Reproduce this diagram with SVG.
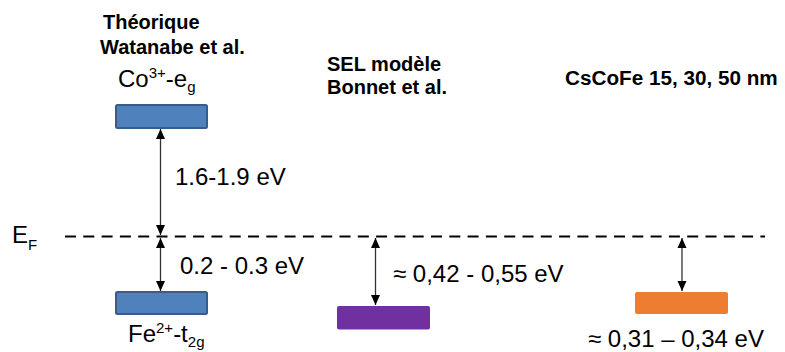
<svg xmlns="http://www.w3.org/2000/svg" width="785" height="352" viewBox="0 0 785 352">
<defs>
<marker id="ah" viewBox="0 0 10 10" refX="10" refY="5" markerWidth="10" markerHeight="10" markerUnits="userSpaceOnUse" orient="auto-start-reverse">
<path d="M0,0.5 L10,5 L0,9.5 Z" fill="#000"/>
</marker>
<style>
.t{font-family:"Liberation Sans",Arial,sans-serif;font-size:24px;fill:#000}
.b{font-family:"Liberation Sans",Arial,sans-serif;font-size:20px;font-weight:bold;fill:#000}
.sm{font-size:15px}
.arr{stroke:#333;stroke-width:1.3;fill:none;marker-start:url(#ah);marker-end:url(#ah)}
.blue{fill:#4F81BD;stroke:#385D8A;stroke-width:2}
</style>
</defs>
<rect width="785" height="352" fill="#fff"/>
<g id="labels">
<text class="b" x="103" y="29">Théorique</text>
<text class="b" x="100" y="54">Watanabe et al.</text>
<text class="b" x="327" y="71">SEL modèle</text>
<text class="b" x="327" y="94">Bonnet et al.</text>
<text class="b" x="565" y="85" style="font-size:20.7px">CsCoFe 15, 30, 50 nm</text>
</g>
<g id="fermi">
<line x1="65" y1="236.5" x2="765" y2="236.5" stroke="#000" stroke-width="2" stroke-dasharray="11,7.3"/>
<text class="t" x="12" y="243">E<tspan class="sm" dy="7">F</tspan></text>
</g>
<g id="co-eg">
<rect class="blue" x="116" y="105" width="91" height="23" rx="1.5"/>
<text class="t" x="118" y="87">Co<tspan class="sm" dy="-9">3+</tspan><tspan dy="9">-e</tspan><tspan class="sm" dy="5">g</tspan></text>
</g>
<g id="fe-t2g">
<rect class="blue" x="116" y="292" width="91" height="22" rx="1.5"/>
<text class="t" x="128" y="342">Fe<tspan class="sm" dy="-9">2+</tspan><tspan dy="9">-t</tspan><tspan class="sm" dy="5">2g</tspan></text>
</g>
<g id="sel">
<rect x="337" y="306" width="93" height="23.5" rx="2" fill="#7030A0"/>
</g>
<g id="cscofe">
<rect x="635" y="292" width="93" height="22" rx="2" fill="#ED7D31"/>
</g>
<g id="connectors">
<line class="arr" x1="160.5" y1="129" x2="160.5" y2="235"/>
<line class="arr" x1="160.5" y1="238" x2="160.5" y2="291"/>
<line class="arr" x1="375.5" y1="238" x2="375.5" y2="305"/>
<line class="arr" x1="682" y1="238" x2="682" y2="291"/>
</g>
<g id="values">
<text class="t" x="175" y="185">1.6-1.9 eV</text>
<text class="t" x="180" y="274">0.2 - 0.3 eV</text>
<text class="t" x="393" y="282">≈ 0,42 - 0,55 eV</text>
<text class="t" x="588" y="347">≈ 0,31 – 0,34 eV</text>
</g>
</svg>
